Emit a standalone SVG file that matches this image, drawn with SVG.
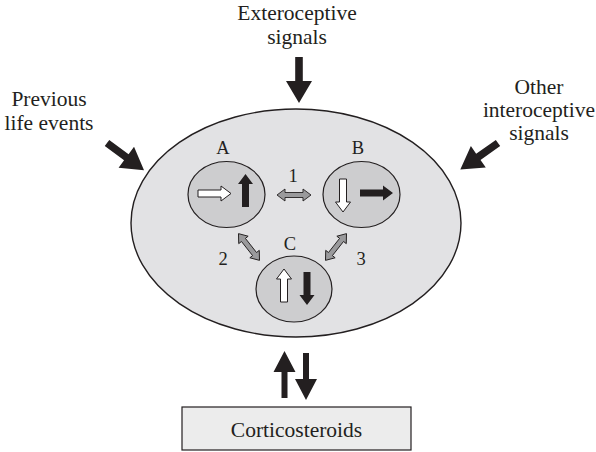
<svg xmlns="http://www.w3.org/2000/svg" width="596" height="452" viewBox="0 0 596 452">
  <style>
    text { font-family: "Liberation Serif", "Times New Roman", serif; fill: #231f20; text-anchor: middle; }
    .lbl { font-size: 21.5px; }
    .tag { font-size: 18.5px; }
    .big { fill: #e2e2e4; stroke: #231f20; stroke-width: 1.4; }
    .sub { fill: #cdcdcf; stroke: #231f20; stroke-width: 1.2; }
    .box { fill: #ececec; stroke: #231f20; stroke-width: 1.2; }
    .blk { fill: #231f20; }
    .wht { fill: #ffffff; stroke: #231f20; stroke-width: 1; }
    .gry { fill: #9a9a9c; stroke: #231f20; stroke-width: 0.9; }
  </style>
  <defs>
    <!-- small block arrow pointing right, tail at origin -->
    <path id="small" d="M0,-3.5 H23 V-7.5 L33,0 L23,7.5 V3.5 H0 Z"/>
    <!-- double-headed link arrow centred on origin -->
    <path id="link" d="M-17,0 L-9,-6 V-2.5 H9 V-6 L17,0 L9,6 V2.5 H-9 V6 Z"/>
    <!-- large input arrow pointing right, tail at origin -->
    <path id="input" d="M0,-3.8 H24 V-13 L46,0 L24,13 V3.8 H0 Z"/>
    <!-- exchange arrow pointing right, tail at origin -->
    <path id="exch" d="M0,-3 H26 V-11 L47,0 L26,11 V3 H0 Z"/>
  </defs>

  <g id="system">
    <ellipse class="big" cx="296" cy="223" rx="165" ry="114"/>
  </g>

  <g id="node-A">
    <ellipse class="sub" cx="226.5" cy="194.5" rx="38.5" ry="33"/>
    <text class="tag" x="223" y="154">A</text>
    <use href="#small" class="wht" transform="translate(198,193.5)"/>
    <use href="#small" class="blk" transform="translate(245.5,207) rotate(-90)"/>
  </g>

  <g id="node-B">
    <ellipse class="sub" cx="361.5" cy="194.5" rx="38.5" ry="33"/>
    <text class="tag" x="358" y="154">B</text>
    <use href="#small" class="wht" transform="translate(343,179) rotate(90)"/>
    <use href="#small" class="blk" transform="translate(360,193)"/>
  </g>

  <g id="node-C">
    <ellipse class="sub" cx="294" cy="289" rx="38" ry="33"/>
    <text class="tag" x="290" y="250">C</text>
    <use href="#small" class="wht" transform="translate(284,302) rotate(-90)"/>
    <use href="#small" class="blk" transform="translate(307,272) rotate(90)"/>
  </g>

  <g id="corticosteroids">
    <rect class="box" x="182" y="407" width="229" height="43"/>
    <text class="lbl" x="296.5" y="437">Corticosteroids</text>
  </g>

  <g id="exteroceptive">
    <text class="lbl" x="297" y="20">Exteroceptive</text>
    <text class="lbl" x="297" y="44">signals</text>
  </g>

  <g id="previous">
    <text class="lbl" x="49" y="106">Previous</text>
    <text class="lbl" x="49" y="130">life events</text>
  </g>

  <g id="interoceptive">
    <text class="lbl" x="539" y="94">Other</text>
    <text class="lbl" x="539" y="117">interoceptive</text>
    <text class="lbl" x="539" y="140">signals</text>
  </g>

  <g id="connectors">
    <use href="#link" class="gry" transform="translate(294,195)"/>
    <use href="#link" class="gry" transform="translate(249,247) rotate(51.8)"/>
    <use href="#link" class="gry" transform="translate(336,247) rotate(128.2)"/>
    <text class="tag" x="293" y="182">1</text>
    <text class="tag" x="223" y="265">2</text>
    <text class="tag" x="361" y="265">3</text>

    <use href="#input" class="blk" transform="translate(299,57) rotate(90)"/>
    <use href="#input" class="blk" transform="translate(107,143) rotate(36.4)"/>
    <use href="#input" class="blk" transform="translate(498,143) rotate(145)"/>

    <use href="#exch" class="blk" transform="translate(284.5,398) rotate(-90)"/>
    <use href="#exch" class="blk" transform="translate(306,353) rotate(90)"/>
  </g>
</svg>
